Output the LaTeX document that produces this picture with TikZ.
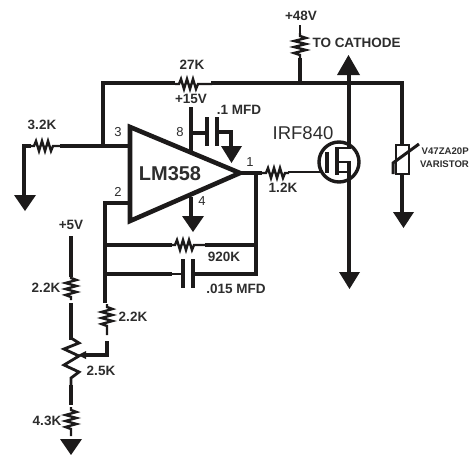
\documentclass[tikz,border=0pt]{standalone}
\usepackage{fontspec}
\setmainfont{Liberation Sans}
\usepackage{xcolor}
\definecolor{wireBlack}{RGB}{28, 26, 26}
\definecolor{labelGray}{RGB}{45, 45, 45}
\tikzset{
  wire/.style={draw=wireBlack, line width=4pt},
  thinwire/.style={draw=wireBlack, line width=2.6pt},
  lbl/.style={font=\bfseries\fontsize{13.5}{15}\selectfont, text=labelGray, inner sep=0pt},
  smalllbl/.style={font=\bfseries\fontsize{9.6}{11}\selectfont, text=labelGray, inner sep=0pt, anchor=west},
  pin/.style={font=\fontsize{13}{15}\selectfont, text=labelGray, inner sep=0pt},
  gnd/.style={fill=wireBlack, draw=none},
}
% zigzag resistors, along x and along y
\newcommand{\reshoriz}[4]{\draw[draw=wireBlack, line width=2.4pt, line join=miter] (#1,#2) -- ++(4,0)
  -- ++(2,-#4) -- ++(3,2*#4) -- ++(3,-2*#4) -- ++(3,2*#4) -- ++(3,-2*#4) -- ++(3,2*#4) -- ++(2,-#4) -- (#3,#2);}
\newcommand{\resvert}[4]{\draw[draw=wireBlack, line width=2.4pt, line join=miter] (#1,#2) -- ++(0,3)
  -- ++(#4,2) -- ++(-2*#4,3) -- ++(2*#4,3) -- ++(-2*#4,3) -- ++(2*#4,3) -- ++(-2*#4,3) -- ++(#4,2) -- (#1,#3);}
\begin{document}
\begin{tikzpicture}[x=1pt,y=-1pt]
  \useasboundingbox (0,0) rectangle (469,455);
  % op amp
  \draw[wire, line width=4.6pt, line join=miter] (130,127) -- (130,221) -- (240,173) -- cycle;
  \node[font=\bfseries\fontsize{20}{23}\selectfont, text=labelGray, inner sep=0pt] (opamp) at (170,174) {LM358};
  \node[pin] (pinthree) at (118,132) {3};
  \node[pin] (pintwo) at (118,192) {2};
  \node[pin] (pineight) at (180,132) {8};
  \node[pin] (pinfour) at (202,201) {4};
  \node[pin] (pinone) at (250,162) {1};
  % named points
  \coordinate (fbtl) at (103,83);
  \coordinate (fbjoin) at (103,146);
  \coordinate (plus) at (130,146);
  \coordinate (minus) at (130,203);
  \coordinate (fbcorner) at (105,203);
  \coordinate (out) at (240,173);
  \coordinate (outjoin) at (256,173);
  \coordinate (rail) at (300,83);
  \coordinate (railend) at (402,83);
  % input side
  \draw[wire] (plus) -- (60,146);
  \reshoriz{30}{146}{60}{5}
  \draw[wire] (31,146) -- (24,146) -- (24,197);
  \fill[gnd] (14,195) -- (36,195) -- (25,211) -- cycle;
  \node[lbl] (rthree) at (42,125) {3.2K};
  % feedback over the top
  \draw[wire] (fbjoin) -- (fbtl) -- (175,83);
  \reshoriz{175}{84}{212}{5}
  \draw[wire] (211,83) -- (railend) -- (402,145);
  \node[lbl] (rtwentyseven) at (192,65) {27K};
  % +48V
  \node[lbl] (vfortyeight) at (301,16) {+48V};
  \draw[thinwire] (300,25) -- (300,33);
  \resvert{300}{33}{60}{6}
  \draw[wire] (300,58) -- (rail);
  \node[lbl] (cathode) at (356.5,43) {TO CATHODE};
  % supply pins
  \node[lbl] (vfifteen) at (191,99) {+15V};
  \draw[wire] (191,107) -- (191,152);
  \draw[wire] (191,133) -- (207,133);
  \draw[wire] (207,117) -- (207,146);
  \draw[wire] (217,117) -- (217,146);
  \draw[wire] (217,132) -- (231,132) -- (231,148);
  \fill[gnd] (221,146) -- (242,146) -- (231.5,163) -- cycle;
  \node[lbl] (cone) at (239,110) {.1 MFD};
  \draw[wire] (191,197) -- (191,218);
  \fill[gnd] (182,216) -- (204,216) -- (193,232) -- cycle;
  % output
  \draw[wire] (out) -- (262,173);
  \reshoriz{262}{173}{289}{5}
  \draw[thinwire] (288,172) -- (320,172);
  \node[lbl] (rgate) at (283,188) {1.2K};
  \node[font=\fontsize{18.5}{21}\selectfont, text=labelGray, inner sep=0pt] (irf) at (303,133) {IRF840};
  % mosfet
  \draw[wire, line width=3.4pt] (339,162) circle (20);
  \draw[wire] (327,152) -- (327,173);
  \draw[wire] (337,147) -- (337,175);
  \draw[thinwire] (337,148) -- (350,148);
  \draw[thinwire] (337,162) -- (349,162);
  \draw[thinwire] (337,172) -- (349,172);
  \draw[wire, line width=3.4pt] (349,160.7) -- (349,174);
  \draw[wire, line width=3.4pt] (349,149) -- (349,75);
  \fill[gnd] (337,75) -- (360,75) -- (348.5,55) -- cycle;
  \draw[wire] (349,174) -- (349,274);
  \fill[gnd] (339,272) -- (360,272) -- (349.5,289) -- cycle;
  % varistor
  \draw[draw=wireBlack, line width=2pt] (396,145) rectangle (409,174);
  \draw[thinwire, line width=3pt, line join=miter] (419,144) -- (393,163) -- (393,174);
  \draw[wire] (402,174) -- (402,214);
  \fill[gnd] (393,212) -- (414,212) -- (403.5,228) -- cycle;
  \node[smalllbl] (vzener) at (421.5,151) {V47ZA20P};
  \node[smalllbl] (vname) at (420,164) {VARISTOR};
  % feedback network
  \draw[wire] (minus) -- (fbcorner) -- (105,303);
  \draw[wire] (105,245) -- (172,245);
  \reshoriz{171}{245}{205}{5}
  \draw[wire] (205,245) -- (256,245);
  \draw[wire] (105,274) -- (172,274);
  \draw[thinwire] (172,274) -- (183,274);
  \draw[wire] (183,259) -- (183,288);
  \draw[wire] (193,259) -- (193,288);
  \draw[wire] (193,274) -- (256,274);
  \draw[wire] (outjoin) -- (256,276);
  \node[lbl] (rninetwenty) at (224,257) {920K};
  \node[lbl] (cfifteen) at (236,289) {.015 MFD};
  % divider
  \node[lbl] (vfive) at (71,225) {+5V};
  \draw[wire] (71,236) -- (71,277);
  \resvert{71}{275}{300}{5.5}
  \draw[wire] (71,303) -- (71,340);
  \draw[draw=wireBlack, line width=2.8pt, line join=miter] (71,338) -- (79,343) -- (64,349) -- (79,356) -- (64,365) -- (79,372) -- (71,378) -- (71,385);
  \draw[wire] (71,385) -- (71,405);
  \resvert{71}{407}{436}{5.5}
  \fill[gnd] (60,439) -- (82,439) -- (71,455) -- cycle;
  \node[lbl] (rtop) at (46,288) {2.2K};
  \node[lbl] (rpot) at (101,371) {2.5K};
  \node[lbl] (rbottom) at (47,421) {4.3K};
  % wiper and series resistor
  \resvert{107}{304}{335}{5.5}
  \node[lbl] (rseries) at (133,317) {2.2K};
  \draw[wire] (107,341) -- (107,355) -- (84,355);
  \fill[gnd] (86,351) -- (86,359) -- (78,355) -- cycle;
\end{tikzpicture}
\end{document}
